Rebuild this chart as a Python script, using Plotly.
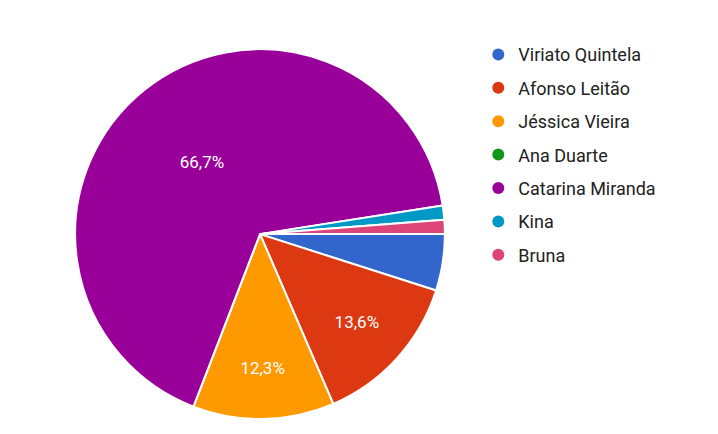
import plotly.graph_objects as go

labels = ["Viriato Quintela", "Afonso Leitão", "Jéssica Vieira", "Ana Duarte", "Catarina Miranda", "Kina", "Bruna"]
values = [4, 11, 10, 0, 54, 1, 1]
colors = ["#3366cc", "#dc3912", "#ff9900", "#109618", "#990099", "#0099c6", "#dd4477"]

total = sum(values)
texts = [(f"{v/total*100:.1f}%".replace(".", ",") if v/total > 0.08 else "") for v in values]

fig = go.Figure(go.Pie(
    labels=labels, values=values, sort=False, direction="clockwise", rotation=90,
    marker=dict(colors=colors, line=dict(color="white", width=2)),
    text=texts, textinfo="text", textposition="inside", insidetextorientation="horizontal",
    textfont=dict(color="white", size=17, family="Roboto"),
    domain=dict(x=[0.093, 0.609], y=[0.053, 0.905]), hoverinfo="label+percent",
    showlegend=False,
))
for lab, col in zip(labels, colors):
    fig.add_trace(go.Scatter(x=[None], y=[None], mode="markers", name=lab,
                             legendgroup=lab,
                             marker=dict(symbol="circle", size=20, color=col)))
fig.update_xaxes(visible=False)
fig.update_yaxes(visible=False)
fig.update_layout(
    width=718, height=434, margin=dict(l=0, r=0, t=0, b=0),
    paper_bgcolor="white", plot_bgcolor="white", separators=",.",
    legend=dict(x=0.655, y=0.935, xanchor="left", yanchor="top",
                font=dict(size=18, family="Roboto", color="#222"), itemsizing="constant",
                tracegroupgap=7),
    showlegend=True,
)
fig.write_html("out.html")
